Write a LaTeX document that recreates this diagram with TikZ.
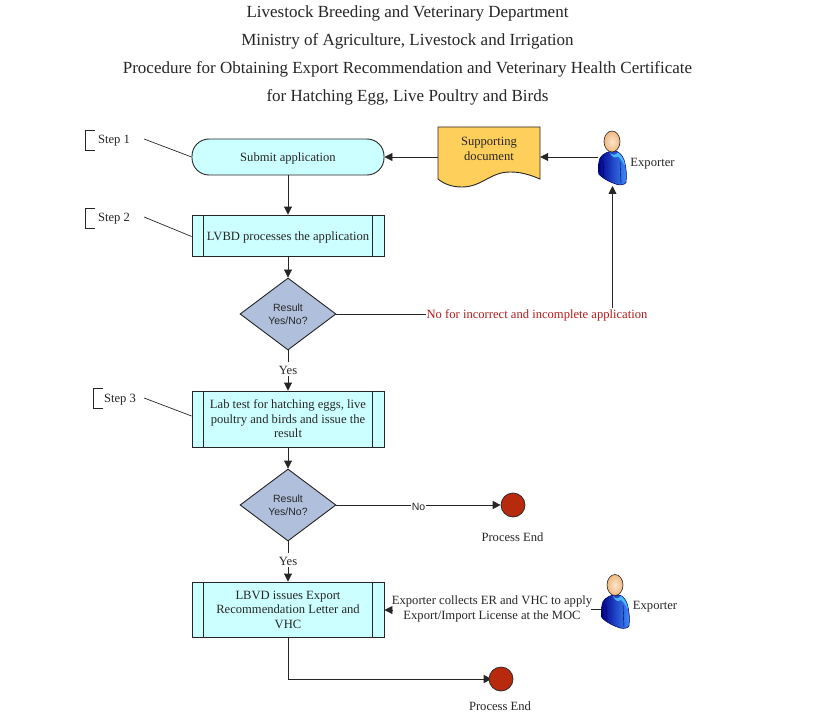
\documentclass[tikz,border=0pt]{standalone}
\usepackage{fontspec}
\setmainfont{Liberation Serif}
\newfontfamily\diafont{Liberation Sans}
\usetikzlibrary{shapes.geometric,arrows.meta,calc,backgrounds}
\definecolor{ink}{HTML}{262626}
\definecolor{cyanfill}{HTML}{CCFFFF}
\definecolor{diafill}{HTML}{B0C0DC}
\definecolor{docfill}{HTML}{FFCF5C}
\definecolor{endfill}{HTML}{B82A0E}
\definecolor{nored}{HTML}{B01C1C}
\definecolor{headfill}{HTML}{F0B880}
\definecolor{headlight}{HTML}{FBE6CC}
\tikzset{
  x=1pt,y=-1pt,
  every node/.style={text=ink,font=\fontsize{12.6}{14.5}\selectfont,align=center,inner sep=0pt,execute at begin node={\rule{0pt}{12pt}}},
  titletext/.style={font=\fontsize{17}{20}\selectfont,execute at begin node={\rule{0pt}{15pt}}},
  startbox/.style={draw=ink,fill=cyanfill,rounded corners=17pt,minimum width=192pt,minimum height=36pt,line width=.9pt},
  procbox/.style={draw=ink,fill=cyanfill,minimum width=192pt,line width=.9pt},
  decide/.style={diamond,aspect=1.333,draw=ink,fill=diafill,line width=.9pt,minimum width=96pt,minimum height=72pt,font=\diafont\fontsize{10.5}{13}\selectfont,execute at begin node={}},
  endcircle/.style={circle,draw=ink,fill=endfill,minimum size=24pt,line width=.7pt},
  flow/.style={draw=ink,line width=.9pt,-{Stealth[length=8pt,width=8pt,inset=0pt]}},
  plain/.style={draw=ink,line width=.9pt},
  thin line/.style={draw=ink,line width=.7pt},
  onlabel/.style={fill=white,inner xsep=1pt,inner ysep=1pt,execute at begin node={}},
  holder/.style={minimum width=28pt,minimum height=54pt},
}
\newcommand{\sidebars}[1]{%
  \draw[plain] ($(#1.north west)+(12,0)$) -- ($(#1.south west)+(12,0)$);
  \draw[plain] ($(#1.north east)+(-12,0)$) -- ($(#1.south east)+(-12,0)$);
}
\newcommand{\personshape}[2]{%
  \begin{scope}[shift={(#1,#2)}]
    \path[left color=blue!55!black,right color=blue!60!cyan!75!white,draw=blue!35!black,line width=.5pt]
      (-2,10) .. controls (-7,11) and (-13,15) .. (-13,20)
      .. controls (-14,26) and (-14,30) .. (-13,33)
      .. controls (-8,38) and (-1,41) .. (5,43)
      .. controls (9,44) and (13,43) .. (14,41)
      .. controls (15,34) and (14,26) .. (13,22)
      .. controls (12,16) and (9,12) .. (5,10) -- cycle;
    \path[fill=blue!40!cyan!70!white]
      (-2,11) .. controls (0,14) and (4,14) .. (6,11)
      .. controls (10,14) and (12,18) .. (13,24)
      .. controls (11,22) and (10,18) .. (6,15)
      .. controls (3,17) and (0,16) .. (-2,11) -- cycle;
    \draw[blue!25!black,line width=.4pt] (-9,20) -- (-8,36) (8,20) -- (9,42);
    \shade[inner color=headlight,outer color=headfill,draw=ink,line width=.6pt] (0,0) ellipse [x radius=8,y radius=10.5];
  \end{scope}
}
\begin{document}
\begin{tikzpicture}
\useasboundingbox (0,0) rectangle (816,714);
\begin{scope}[on background layer]
\fill[white] (0,0) rectangle (816,714);
\end{scope}
% titles
\node[titletext] (t1) at (407.5,12) {Livestock Breeding and Veterinary Department};
\node[titletext] (t2) at (407.5,40) {Ministry of Agriculture, Livestock and Irrigation};
\node[titletext] (t3) at (407.5,68) {Procedure for Obtaining Export Recommendation and Veterinary Health Certificate};
\node[titletext] (t4) at (407.5,96) {for Hatching Egg, Live Poultry and Birds};
% flow nodes
\node[startbox] (submit) at (288,157) {Submit application};
\node[procbox,minimum height=41pt] (proc) at (288,235.5) {LVBD processes the application};
\sidebars{proc}
\node[decide] (d1) at (288,314) {Result\\Yes/No?};
\node[procbox,minimum height=56pt] (lab) at (288,419) {Lab test for hatching eggs, live\\poultry and birds and issue the\\result};
\sidebars{lab}
\node[decide] (d2) at (288,505) {Result\\Yes/No?};
\node[procbox,minimum height=55pt] (lic) at (288,609.5) {LBVD issues Export\\Recommendation Letter and\\VHC};
\sidebars{lic}
\node[endcircle] (end1) at (513,505) {};
\node (endt1) at (512.5,536) {Process End};
\node[endcircle] (end2) at (501,679) {};
\node (endt2) at (500,705) {Process End};
% document
\node[minimum width=102pt,minimum height=60pt] (doc) at (489,157) {};
\draw[fill=docfill,draw=ink,line width=.9pt] (438,127) -- (540,127) -- (540,179)
  .. controls (528,174) and (520,172) .. (510,172)
  .. controls (490,172) and (482,187) .. (462,187)
  .. controls (452,187) and (444,184) .. (438,179) -- cycle;
\node at (489,149) {Supporting\\document};
% people
\node[holder] (exp1) at (612.5,157) {};
\personshape{612}{141.5}
\node (exp1t) at (652.5,162) {Exporter};
\node[holder] (exp2) at (615.5,600) {};
\personshape{615}{585}
\node (exp2t) at (655,605) {Exporter};
% labels
\node[text=nored] (nolab) at (537,314) {No for incorrect and incomplete application};
\node (collect) at (492,609) {Exporter collects ER and VHC to apply\\Export/Import License at the MOC};
% step labels
\node (s1) at (114,139) {Step 1};
\node (s2) at (114,217) {Step 2};
\node (s3) at (120,398) {Step 3};
\draw[thin line] (95,130) -- (85,130) -- (85,150) -- (95,150);
\draw[thin line] (95,208) -- (85,208) -- (85,228) -- (95,228);
\draw[thin line] (103,388) -- (93,388) -- (93,408) -- (103,408);
\draw[thin line] ($(s1.east)+(14,0)$) -- (submit.west);
\draw[thin line] ($(s2.east)+(14,0)$) -- ($(proc.west)+(0,1)$);
\draw[thin line] ($(s3.east)+(8,0)$) -- ($(lab.west)+(0,-3)$);
% connectors
\draw[flow] (submit) -- (proc);
\draw[flow] (proc) -- (d1);
\draw[flow] (d1.south) -- node[onlabel,yshift=1.5pt] (yes1) {Yes} (lab.north);
\draw[flow] (lab) -- (d2);
\draw[flow] (d2.south) -- node[onlabel,yshift=1.5pt] (yes2) {Yes} (lic.north);
\draw[flow] (d2.east) -- node[onlabel,font=\diafont\fontsize{10.5}{13}\selectfont] (no2) {No} (end1.west);
\draw[plain] (d1.east) -- (nolab.west);
\draw[flow] (nolab.north -| exp1.south) ++(0,2) -- (exp1.south |- 0,186);
\draw[flow] (doc.west) -- (submit.east);
\draw[flow] (exp1.west) -- (doc.east);
\draw[flow] (collect.west |- 0,610) -- (lic.east |- 0,610);
\draw[plain] (591,609) -- (exp2.west |- 0,609);
\begin{scope}[on background layer]
\draw[flow] (lic.south) |- ($(end2.west)+(3,0)$);
\end{scope}
\end{tikzpicture}
\end{document}
